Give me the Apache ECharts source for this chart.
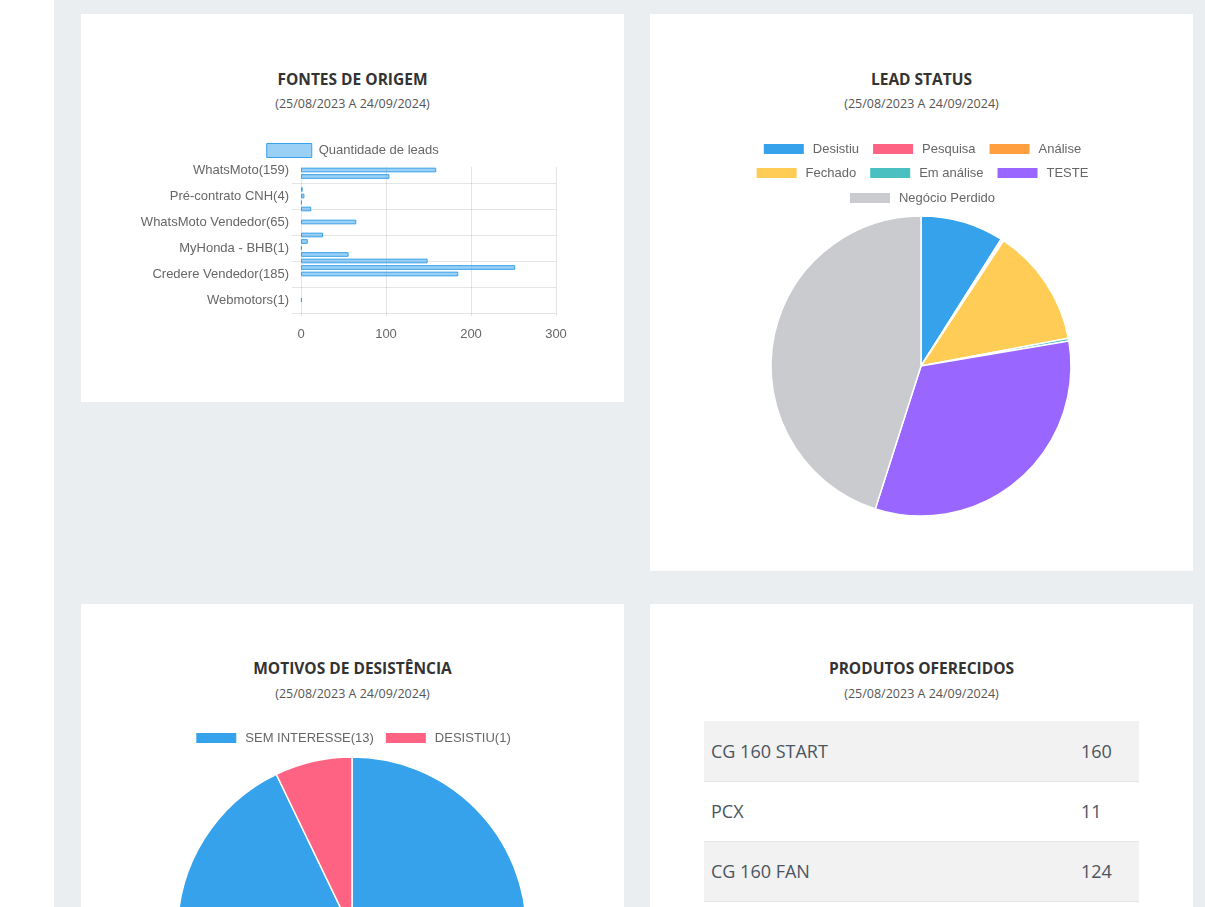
<!DOCTYPE html>
<html>
<head>
<meta charset="utf-8">
<script src="https://cdn.jsdelivr.net/npm/echarts/dist/echarts.min.js"></script>
<style>
  html, body { margin: 0; padding: 0; width: 1205px; height: 907px; overflow: hidden; background: #fff; }
  .main { position: absolute; left: 54px; top: 0; width: 1151px; height: 907px; background: #ebeef1; }
  .card { position: absolute; background: #fff; overflow: hidden; }
  .chart { position: absolute; left: 0; top: 0; width: 543px; }
  .t1 { position: absolute; left: 0; width: 100%; text-align: center; font-family: "Open Sans", Lato, sans-serif; font-weight: 700; font-size: 15.5px; color: #333; line-height: 20px; }
  .t2 { position: absolute; left: 0; width: 100%; text-align: center; font-family: "Open Sans", Lato, sans-serif; font-size: 12.5px; color: #555; line-height: 16px; }
  table { position: absolute; left: 54px; top: 117px; width: 435px; border-collapse: collapse; font-family: "Open Sans", Lato, sans-serif; font-size: 18px; color: #4a5560; }
  td { height: 60px; padding: 0 7px; border-bottom: 1px solid #e3e6e9; box-sizing: border-box; }
  tr:nth-child(odd) td { background: #f2f2f2; }
  td.n { width: 65px; }
</style>
</head>
<body>
<div class="main"></div>

<div class="card" style="left:81px;top:14px;width:543px;height:388px;">
  <div class="t1" style="top:55px;">FONTES DE ORIGEM</div>
  <div class="t2" style="top:82px;">(25/08/2023 A 24/09/2024)</div>
  <div id="c1" class="chart" style="height:388px;"></div>
</div>

<div class="card" style="left:650px;top:14px;width:543px;height:557px;">
  <div class="t1" style="top:55px;">LEAD STATUS</div>
  <div class="t2" style="top:82px;">(25/08/2023 A 24/09/2024)</div>
  <div id="c2" class="chart" style="height:557px;"></div>
</div>

<div class="card" style="left:81px;top:604px;width:543px;height:557px;">
  <div class="t1" style="top:54px;">MOTIVOS DE DESISTÊNCIA</div>
  <div class="t2" style="top:82px;">(25/08/2023 A 24/09/2024)</div>
  <div id="c3" class="chart" style="height:557px;"></div>
</div>

<div class="card" style="left:650px;top:604px;width:543px;height:557px;">
  <div class="t1" style="top:54px;">PRODUTOS OFERECIDOS</div>
  <div class="t2" style="top:82px;">(25/08/2023 A 24/09/2024)</div>
  <table id="tbl"></table>
</div>

<script>
// ---------- DATA ----------
const fontesCategorias = [
  'WhatsMoto(159)', '', '', '',
  'Pré-contrato CNH(4)', '', '', '',
  'WhatsMoto Vendedor(65)', '', '', '',
  'MyHonda - BHB(1)', '', '', '',
  'Credere Vendedor(185)', '', '', '',
  'Webmotors(1)', '', ''
];
const fontesValores = [159, 104, null, 2, 4, 1, 12, null, 65, null, 26, 8, 1, 56, 149, 252, 185, null, null, null, 1, null, null];
const fontesSerie = 'Quantidade de leads';
const fontesTicks = [0, 100, 200, 300];

const statusNomes = ['Desistiu', 'Pesquisa', 'Análise', 'Fechado', 'Em análise', 'TESTE', 'Negócio Perdido'];
const statusValores = [92, 2, 1, 131, 3, 334, 462];
const statusCores = ['#36a2eb', '#ff6384', '#ff9f40', '#ffcd56', '#4bc0c0', '#9966ff', '#c9cbcf'];

const motivosNomes = ['SEM INTERESSE(13)', 'DESISTIU(1)'];
const motivosValores = [13, 1];
const motivosCores = ['#36a2eb', '#ff6384'];

const produtosNomes = ['CG 160 START', 'PCX', 'CG 160 FAN'];
const produtosValores = [160, 11, 124];

// ---------- CHART 1 ----------
const FONT = '"Liberation Sans", Arial, Helvetica, sans-serif';
const grid = 'rgba(0,0,0,0.1)';
const c1 = echarts.init(document.getElementById('c1'));
c1.setOption({
  animation: false,
  legend: {
    top: 124, left: 'center', itemWidth: 45, itemHeight: 14, itemGap: 10,
    textStyle: { color: '#666', fontSize: 13, fontFamily: FONT, padding: [0, 0, 0, 2] },
    data: [{ name: fontesSerie, icon: 'rect', itemStyle: { color: 'rgba(54,162,235,0.5)', borderColor: 'rgb(54,162,235)', borderWidth: 1 } }]
  },
  grid: [
    { left: 220, top: 152.75, width: 255, height: 149.5 },
    { left: 211, top: 169, width: 264, height: 130 }
  ],
  xAxis: [
    { type: 'value', gridIndex: 0, min: fontesTicks[0], max: fontesTicks[fontesTicks.length - 1], interval: 100,
      axisLine: { show: false }, axisTick: { show: false },
      axisLabel: { color: '#666', fontSize: 13, fontFamily: FONT, margin: 12 },
      splitLine: { show: true, lineStyle: { color: grid, width: 1 } } },
    { type: 'value', gridIndex: 1, show: false, min: 0, max: 1 }
  ],
  yAxis: [
    { type: 'category', gridIndex: 0, data: fontesCategorias, inverse: true,
      axisLine: { show: false }, axisTick: { show: false }, splitLine: { show: false },
      axisLabel: { interval: 3, color: '#666', fontSize: 13, fontFamily: FONT, margin: 12 } },
    { type: 'value', gridIndex: 1, min: 0, max: 5, interval: 1,
      axisLine: { show: false }, axisTick: { show: false }, axisLabel: { show: false },
      splitLine: { show: true, lineStyle: { color: grid, width: 1 } } }
  ],
  series: [{
    name: fontesSerie, type: 'bar', xAxisIndex: 0, yAxisIndex: 0,
    data: fontesValores, barWidth: '72%',
    itemStyle: { color: 'rgba(54,162,235,0.5)', borderColor: 'rgb(54,162,235)', borderWidth: 1 },
    emphasis: { disabled: true }
  }]
});

// ---------- CHART 2 ----------
const legendBase = {
  left: 'center', itemWidth: 42, itemHeight: 12, itemGap: 12, icon: 'rect',
  textStyle: { color: '#666', fontSize: 13, fontFamily: FONT, padding: [0, 0, 0, 3] }
};
const c2 = echarts.init(document.getElementById('c2'));
c2.setOption({
  animation: false,
  legend: [
    Object.assign({}, legendBase, { top: 123, data: statusNomes.slice(0, 3) }),
    Object.assign({}, legendBase, { top: 147, data: statusNomes.slice(3, 6) }),
    Object.assign({}, legendBase, { top: 172, data: statusNomes.slice(6) })
  ],
  series: [{
    type: 'pie', center: [271, 352], radius: 150, startAngle: 90, clockwise: true,
    label: { show: false }, labelLine: { show: false }, emphasis: { disabled: true },
    itemStyle: { borderColor: '#fff', borderWidth: 1.5 },
    data: statusNomes.map((n, i) => ({ name: n, value: statusValores[i], itemStyle: { color: statusCores[i] } }))
  }]
});

// ---------- CHART 3 ----------
const c3 = echarts.init(document.getElementById('c3'));
c3.setOption({
  animation: false,
  legend: Object.assign({}, legendBase, { top: 122, itemGap: 10, data: motivosNomes }),
  series: [{
    type: 'pie', center: [271, 327.5], radius: 174.5, startAngle: 90, clockwise: true,
    label: { show: false }, labelLine: { show: false }, emphasis: { disabled: true },
    itemStyle: { borderColor: '#fff', borderWidth: 1.5 },
    data: motivosNomes.map((n, i) => ({ name: n, value: motivosValores[i], itemStyle: { color: motivosCores[i] } }))
  }]
});

// ---------- TABLE ----------
const tbl = document.getElementById('tbl');
produtosNomes.forEach((n, i) => {
  const tr = document.createElement('tr');
  const a = document.createElement('td'); a.textContent = n;
  const b = document.createElement('td'); b.className = 'n'; b.textContent = produtosValores[i];
  tr.appendChild(a); tr.appendChild(b); tbl.appendChild(tr);
});
</script>
</body>
</html>
